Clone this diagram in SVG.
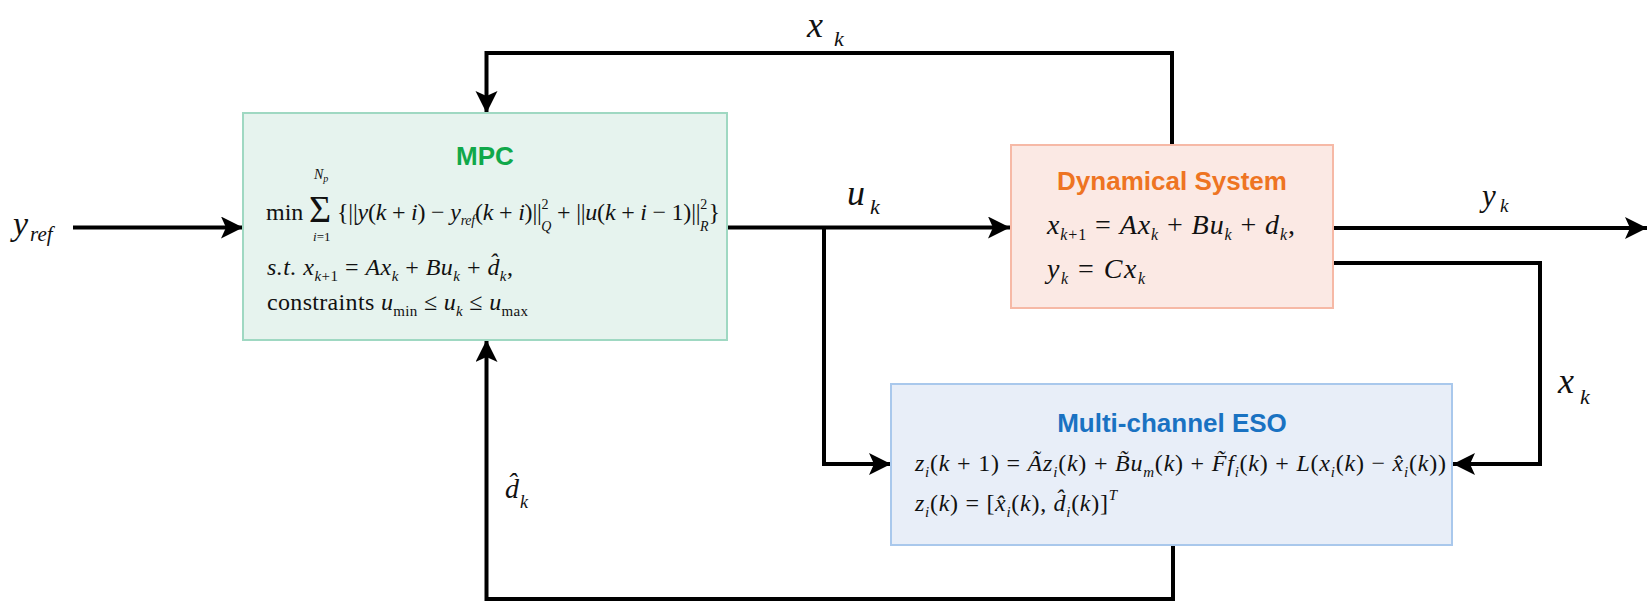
<svg xmlns="http://www.w3.org/2000/svg" width="1648" height="604" viewBox="0 0 1648 604">
  <style>
    .box-mpc { fill: #e6f3ee; stroke: #9fd8c2; stroke-width: 2; }
    .box-dyn { fill: #fbe9e4; stroke: #f6b9a6; stroke-width: 2; }
    .box-eso { fill: #e8eef8; stroke: #a9c8ec; stroke-width: 2; }
    .title { font-family: "Liberation Sans", Arial, sans-serif; font-weight: bold; font-size: 26px; text-anchor: middle; }
    .m { font-family: "Liberation Serif", "Times New Roman", serif; fill: #111; }
    .i { font-style: italic; }
    .lbl { font-family: "Liberation Serif", "Times New Roman", serif; font-style: italic; fill: #111; }
    .wire { fill: none; stroke: #000; stroke-width: 4; stroke-linejoin: miter; }
    .arrow { marker-end: url(#head); }
  </style>
  <defs>
    <marker id="head" markerUnits="userSpaceOnUse" markerWidth="24" markerHeight="24" refX="22" refY="11" orient="auto">
      <path d="M0,0 L22,11 L0,22 L5,11 Z" fill="#000"/>
    </marker>
  </defs>

  <rect width="1648" height="604" fill="#fff"/>

  <!-- connectors -->
  <g id="connectors">
    <path class="wire arrow" d="M73,227.5 H243"/>
    <path class="wire arrow" d="M727,227.5 H1010"/>
    <path class="wire arrow" d="M824,227.5 V464 H891"/>
    <path class="wire arrow" d="M1333,228 H1647"/>
    <path class="wire arrow" d="M1333,263 H1540 V464 H1453"/>
    <path class="wire arrow" d="M1172,145 V53 H486.5 V113"/>
    <path class="wire arrow" d="M1173,545 V599 H486.5 V340"/>
  </g>

  <!-- signal labels -->
  <g id="labels">
    <text class="lbl" x="13" y="235" font-size="34">y</text>
    <text class="lbl" x="30" y="241" font-size="21">ref</text>

    <text class="lbl" x="807" y="37" font-size="36">x</text>
    <text class="lbl" x="834" y="46" font-size="22">k</text>

    <text class="lbl" x="847" y="205" font-size="36">u</text>
    <text class="lbl" x="870" y="214" font-size="22">k</text>

    <text class="lbl" x="1482" y="206" font-size="31">y</text>
    <text class="lbl" x="1500" y="212" font-size="19">k</text>

    <text class="lbl" x="1558" y="393" font-size="36">x</text>
    <text class="lbl" x="1580" y="404" font-size="22">k</text>

    <text class="lbl" x="505" y="498" font-size="28">d&#x302;</text>
    <text class="lbl" x="520" y="508" font-size="18">k</text>
  </g>

  <!-- MPC controller -->
  <g id="mpc">
    <rect class="box-mpc" x="243" y="113" width="484" height="227"/>
    <text class="title" x="485" y="165" fill="#10a84a">MPC</text>
    <text class="m" x="266" y="220" style="font-size:24px">min</text>
    <text class="m" x="309" y="222" style="font-size:38px">Σ</text>
    <text class="m i" x="314" y="179" style="font-size:14px">N<tspan font-size="10" dy="3">p</tspan></text>
    <text class="m" x="313" y="241" style="font-size:13px"><tspan class="i">i</tspan>=1</text>
    <text class="m" x="337" y="220" style="font-size:24px" textLength="383">{||<tspan class="i">y</tspan>(<tspan class="i">k</tspan> + <tspan class="i">i</tspan>) − <tspan class="i">y</tspan><tspan class="i" font-size="14" dy="5">ref</tspan><tspan dy="-5">(</tspan><tspan class="i">k</tspan> + <tspan class="i">i</tspan>)||<tspan font-size="14" dy="-11">2</tspan><tspan class="i" font-size="14" dx="-7" dy="22">Q</tspan><tspan dy="-11"> + ||</tspan><tspan class="i">u</tspan>(<tspan class="i">k</tspan> + <tspan class="i">i</tspan> − 1)||<tspan font-size="14" dy="-11">2</tspan><tspan class="i" font-size="14" dx="-7" dy="22">R</tspan><tspan dy="-11">}</tspan></text>
    <text class="m" x="267" y="275" style="font-size:24px" textLength="246"><tspan class="i">s.t.</tspan>  <tspan class="i">x</tspan><tspan class="i" font-size="15" dy="6">k</tspan><tspan font-size="15">+1</tspan><tspan dy="-6"> = </tspan><tspan class="i">Ax</tspan><tspan class="i" font-size="15" dy="6">k</tspan><tspan dy="-6"> + </tspan><tspan class="i">Bu</tspan><tspan class="i" font-size="15" dy="6">k</tspan><tspan dy="-6"> + </tspan><tspan class="i">d&#x302;</tspan><tspan class="i" font-size="15" dy="6">k</tspan><tspan dy="-6">,</tspan></text>
    <text class="m" x="267" y="310" style="font-size:24px" textLength="261">constraints  <tspan class="i">u</tspan><tspan font-size="15" dy="6">min</tspan><tspan dy="-6"> ≤ </tspan><tspan class="i">u</tspan><tspan class="i" font-size="15" dy="6">k</tspan><tspan dy="-6"> ≤ </tspan><tspan class="i">u</tspan><tspan font-size="15" dy="6">max</tspan></text>
  </g>

  <!-- plant -->
  <g id="dynamical-system">
    <rect class="box-dyn" x="1011" y="145" width="322" height="163"/>
    <text class="title" x="1172" y="190" fill="#ee7422">Dynamical System</text>
    <text class="m" x="1047" y="234" style="font-size:28px" textLength="248"><tspan class="i">x</tspan><tspan class="i" font-size="16" dy="6">k</tspan><tspan font-size="16">+1</tspan><tspan dy="-6"> = </tspan><tspan class="i">Ax</tspan><tspan class="i" font-size="16" dy="6">k</tspan><tspan dy="-6"> + </tspan><tspan class="i">Bu</tspan><tspan class="i" font-size="16" dy="6">k</tspan><tspan dy="-6"> + </tspan><tspan class="i">d</tspan><tspan class="i" font-size="16" dy="6">k</tspan><tspan dy="-6">,</tspan></text>
    <text class="m" x="1047" y="278" style="font-size:28px" textLength="98"><tspan class="i">y</tspan><tspan class="i" font-size="16" dy="6">k</tspan><tspan dy="-6"> = </tspan><tspan class="i">Cx</tspan><tspan class="i" font-size="16" dy="6">k</tspan></text>
  </g>

  <!-- observer -->
  <g id="multi-channel-eso">
    <rect class="box-eso" x="891" y="384" width="561" height="161"/>
    <text class="title" x="1172" y="432" fill="#1a72c2">Multi-channel ESO</text>
    <text class="m" x="915" y="471" style="font-size:24px" textLength="531"><tspan class="i">z</tspan><tspan class="i" font-size="15" dy="6">i</tspan><tspan dy="-6">(</tspan><tspan class="i">k</tspan> + 1) = <tspan class="i">Ã</tspan><tspan class="i">z</tspan><tspan class="i" font-size="15" dy="6">i</tspan><tspan dy="-6">(</tspan><tspan class="i">k</tspan>) + <tspan class="i">B&#x303;u</tspan><tspan class="i" font-size="15" dy="6">m</tspan><tspan dy="-6">(</tspan><tspan class="i">k</tspan>) + <tspan class="i">F&#x303;f</tspan><tspan class="i" font-size="15" dy="6">i</tspan><tspan dy="-6">(</tspan><tspan class="i">k</tspan>) + <tspan class="i">L</tspan>(<tspan class="i">x</tspan><tspan class="i" font-size="15" dy="6">i</tspan><tspan dy="-6">(</tspan><tspan class="i">k</tspan>) − <tspan class="i">x&#x302;</tspan><tspan class="i" font-size="15" dy="6">i</tspan><tspan dy="-6">(</tspan><tspan class="i">k</tspan>))</text>
    <text class="m" x="915" y="511" style="font-size:24px" textLength="202"><tspan class="i">z</tspan><tspan class="i" font-size="15" dy="6">i</tspan><tspan dy="-6">(</tspan><tspan class="i">k</tspan>) = [<tspan class="i">x&#x302;</tspan><tspan class="i" font-size="15" dy="6">i</tspan><tspan dy="-6">(</tspan><tspan class="i">k</tspan>), <tspan class="i">d&#x302;</tspan><tspan class="i" font-size="15" dy="6">i</tspan><tspan dy="-6">(</tspan><tspan class="i">k</tspan>)]<tspan class="i" font-size="15" dy="-11">T</tspan></text>
  </g>
</svg>
